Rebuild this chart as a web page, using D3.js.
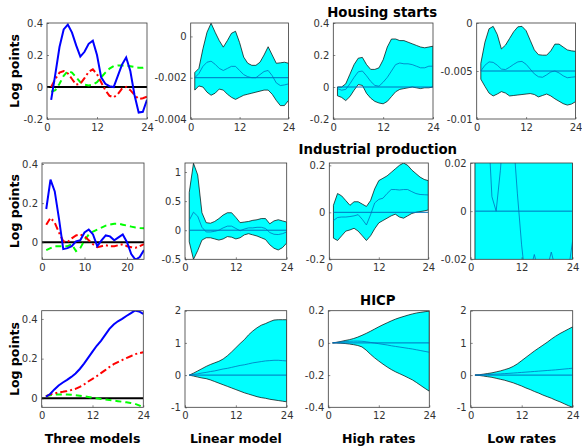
<!DOCTYPE html>
<html><head><meta charset="utf-8">
<script src="https://cdn.jsdelivr.net/npm/d3@7"></script>
<style>body{margin:0;background:#fff}svg{display:block}</style>
</head><body><svg id="fig" width="582" height="448"></svg>
<script>
// Impulse-response horizon (months)
const horizon = [1,2,3,4,5,6,7,8,9,10,11,12,13,14,15,16,17,18,19,20,21,22,23,24];

// ---- Housing starts ----
const hsLinear = [-0.08,0.08,0.25,0.36,0.39,0.34,0.26,0.19,0.22,0.27,0.29,0.20,0.06,0.02,0.005,0.0,0.07,0.14,0.185,0.10,-0.05,-0.16,-0.155,-0.08];
const hsLow    = [0.0,0.05,0.09,0.10,0.085,0.05,0.015,0.02,0.055,0.095,0.11,0.08,0.03,-0.02,-0.055,-0.065,-0.045,-0.01,0.0,-0.02,-0.05,-0.075,-0.07,-0.06];
const hsHigh   = [-0.03,-0.02,0.02,0.07,0.10,0.09,0.06,0.03,0.015,0.01,0.015,0.03,0.06,0.09,0.115,0.13,0.135,0.135,0.135,0.13,0.125,0.12,0.12,0.125];
const hsLinMid = [-0.0020,-0.0018,-0.00145,-0.00125,-0.0012,-0.00135,-0.00155,-0.00165,-0.00155,-0.00145,-0.00145,-0.00165,-0.00185,-0.00195,-0.0020,-0.0020,-0.00185,-0.0017,-0.00165,-0.0019,-0.00225,-0.00238,-0.00235,-0.0023];
const hsLinUp  = [-0.00175,-0.00155,-0.0006,0.0002,0.00064,0.0002,-0.0002,-0.00052,-0.0002,0.00015,0.00025,-0.0003,-0.0010,-0.0013,-0.0014,-0.0014,-0.00125,-0.0009,-0.0005,-0.0009,-0.0013,-0.00128,-0.00125,-0.0013];
const hsLinLo  = [-0.0026,-0.0024,-0.00245,-0.0027,-0.00285,-0.00275,-0.00255,-0.0026,-0.0028,-0.00295,-0.00305,-0.00295,-0.00285,-0.0028,-0.00275,-0.0027,-0.00265,-0.0026,-0.0026,-0.0028,-0.0031,-0.00335,-0.00335,-0.0031];
const hsHighMid = [-0.01,-0.02,-0.015,0.02,0.06,0.095,0.10,0.07,0.035,0.01,0.005,0.03,0.06,0.10,0.14,0.15,0.145,0.145,0.14,0.13,0.12,0.12,0.13,0.13];
const hsHighUp  = [0.0,0.0,0.02,0.08,0.14,0.18,0.185,0.14,0.11,0.11,0.12,0.17,0.25,0.30,0.30,0.29,0.29,0.28,0.27,0.26,0.25,0.245,0.25,0.255];
const hsHighLo  = [-0.055,-0.065,-0.085,-0.06,-0.02,0.015,0.01,-0.04,-0.07,-0.09,-0.10,-0.105,-0.09,-0.06,-0.03,-0.015,-0.01,-0.005,0.0,-0.005,-0.01,-0.005,-0.005,0.0];
const hsLowMid = [-0.0050,-0.0044,-0.00405,-0.0041,-0.0044,-0.0048,-0.00485,-0.0046,-0.0043,-0.00405,-0.0040,-0.0043,-0.0048,-0.0053,-0.0056,-0.00565,-0.0054,-0.0051,-0.0050,-0.0052,-0.0055,-0.0057,-0.00565,-0.0056];
const hsLowUp  = [-0.0042,-0.0020,-0.0006,-0.00035,-0.0012,-0.0027,-0.0023,-0.0016,-0.0009,-0.0004,-0.00035,-0.0008,-0.0018,-0.0028,-0.0033,-0.00335,-0.00335,-0.0029,-0.0022,-0.0022,-0.0025,-0.0028,-0.0029,-0.00295];
const hsLowLo  = [-0.00585,-0.0066,-0.0073,-0.0076,-0.0074,-0.00715,-0.0073,-0.0076,-0.00755,-0.0075,-0.00745,-0.0074,-0.00735,-0.00745,-0.0077,-0.00755,-0.0074,-0.0076,-0.0079,-0.00815,-0.0084,-0.00855,-0.00845,-0.0082];

// ---- Industrial production ----
const ipLinear = [0.17,0.32,0.26,0.12,-0.035,-0.03,-0.02,0.005,0.01,0.05,0.065,0.04,-0.02,0.01,0.035,0.03,0.01,0.025,0.04,0.0,-0.06,-0.09,-0.075,-0.04];
const ipLow    = [0.09,0.125,0.10,0.05,0.005,0.0,0.02,0.035,0.04,0.03,0.01,-0.01,-0.025,-0.02,-0.015,-0.02,-0.02,-0.015,-0.01,-0.02,-0.025,-0.028,-0.02,-0.01];
const ipHigh   = [-0.04,-0.03,-0.02,-0.02,-0.02,-0.02,-0.01,-0.045,-0.03,0.01,0.04,0.055,0.065,0.075,0.085,0.09,0.095,0.095,0.09,0.085,0.08,0.075,0.073,0.072];
const ipLinMid = [0.17,0.31,0.24,0.05,-0.03,-0.03,-0.02,0.0,0.04,0.07,0.07,0.03,-0.01,0.02,0.04,0.04,0.05,0.05,0.03,-0.04,-0.07,-0.075,-0.06,-0.03];
const ipLinUp  = [0.65,1.15,0.95,0.30,0.13,0.12,0.15,0.20,0.26,0.30,0.30,0.22,0.13,0.14,0.15,0.17,0.18,0.20,0.20,0.11,0.16,0.18,0.16,0.14];
const ipLinLo  = [-0.20,-0.50,-0.35,-0.17,-0.13,-0.13,-0.15,-0.17,-0.15,-0.11,-0.12,-0.15,-0.13,-0.08,-0.06,-0.08,-0.10,-0.13,-0.16,-0.25,-0.31,-0.34,-0.30,-0.22];
const ipHighMid = [-0.035,-0.022,-0.02,-0.02,-0.018,-0.015,-0.01,-0.03,-0.054,-0.01,0.04,0.055,0.06,0.08,0.097,0.097,0.095,0.097,0.097,0.088,0.08,0.076,0.075,0.074];
const ipHighUp  = [0.03,0.08,0.07,0.05,0.03,0.045,0.045,0.035,0.025,0.05,0.10,0.135,0.145,0.155,0.17,0.185,0.20,0.21,0.20,0.18,0.165,0.15,0.14,0.135];
const ipHighLo  = [-0.11,-0.12,-0.10,-0.08,-0.075,-0.068,-0.08,-0.10,-0.12,-0.10,-0.07,-0.045,-0.035,-0.025,-0.015,-0.008,-0.02,-0.025,-0.015,-0.005,0.0,0.003,0.006,0.01];
const ipLowMid = [0.10,0.09,0.07,0.04,0.006,0.0,0.017,0.04,0.045,0.032,0.0075,-0.014,-0.03,-0.025,-0.018,-0.025,-0.03,-0.024,-0.017,-0.024,-0.03,-0.03,-0.025,-0.0127];
const ipLowUp  = [0.30,0.32,0.33,0.33,0.32,0.32,0.31,0.31,0.30,0.30,0.29,0.29,0.28,0.28,0.27,0.27,0.27,0.26,0.26,0.26,0.25,0.25,0.25,0.25];
const ipLowLo  = [-0.30,-0.31,-0.31,-0.32,-0.32,-0.32,-0.33,-0.33,-0.33,-0.34,-0.34,-0.34,-0.35,-0.35,-0.35,-0.35,-0.36,-0.36,-0.36,-0.36,-0.37,-0.37,-0.37,-0.37];

// ---- HICP ----
const hiLinear = [0.008,0.022,0.045,0.065,0.08,0.093,0.108,0.125,0.148,0.175,0.205,0.235,0.265,0.29,0.32,0.35,0.372,0.388,0.40,0.415,0.428,0.442,0.438,0.425];
const hiLow    = [0.01,0.02,0.025,0.03,0.033,0.037,0.042,0.048,0.058,0.07,0.085,0.098,0.112,0.127,0.142,0.158,0.172,0.183,0.193,0.203,0.212,0.222,0.228,0.232];
const hiHigh   = [0.012,0.016,0.019,0.02,0.02,0.019,0.018,0.016,0.013,0.01,0.007,0.003,0.0,-0.003,-0.005,-0.008,-0.011,-0.014,-0.017,-0.02,-0.023,-0.027,-0.035,-0.045];
const hiLinMid = [0.0,0.02,0.04,0.065,0.085,0.11,0.13,0.16,0.19,0.21,0.24,0.27,0.30,0.32,0.35,0.38,0.40,0.42,0.44,0.45,0.46,0.46,0.45,0.44];
const hiLinUp  = [0.0,0.06,0.13,0.20,0.27,0.33,0.38,0.43,0.50,0.60,0.72,0.85,0.98,1.10,1.25,1.37,1.47,1.55,1.60,1.66,1.71,1.72,1.72,1.72];
const hiLinLo  = [0.0,-0.03,-0.06,-0.09,-0.11,-0.15,-0.20,-0.25,-0.30,-0.35,-0.40,-0.45,-0.50,-0.55,-0.59,-0.63,-0.67,-0.70,-0.72,-0.75,-0.77,-0.79,-0.81,-0.83];
const hiHighMid = [0.0,0.003,0.006,0.009,0.01,0.011,0.011,0.01,0.007,0.003,-0.001,-0.005,-0.009,-0.013,-0.018,-0.022,-0.026,-0.03,-0.034,-0.038,-0.043,-0.048,-0.053,-0.058];
const hiHighUp  = [0.0,0.004,0.009,0.015,0.02,0.027,0.036,0.047,0.059,0.072,0.086,0.10,0.113,0.125,0.137,0.148,0.157,0.165,0.173,0.18,0.186,0.19,0.194,0.197];
const hiHighLo  = [0.0,-0.001,-0.002,-0.004,-0.007,-0.011,-0.016,-0.025,-0.045,-0.07,-0.093,-0.113,-0.132,-0.15,-0.166,-0.18,-0.192,-0.204,-0.217,-0.23,-0.247,-0.265,-0.283,-0.30];
const hiLowMid = [0.0,0.005,0.01,0.017,0.024,0.031,0.038,0.046,0.055,0.064,0.073,0.083,0.093,0.103,0.113,0.123,0.133,0.143,0.153,0.163,0.175,0.188,0.20,0.215];
const hiLowUp  = [0.0,0.01,0.03,0.05,0.07,0.10,0.13,0.17,0.21,0.27,0.35,0.45,0.55,0.65,0.75,0.84,0.93,1.02,1.12,1.21,1.29,1.36,1.43,1.50];
const hiLowLo  = [0.0,-0.01,-0.03,-0.05,-0.07,-0.10,-0.13,-0.16,-0.20,-0.24,-0.29,-0.34,-0.40,-0.45,-0.51,-0.56,-0.62,-0.67,-0.72,-0.78,-0.83,-0.89,-0.95,-1.00];

// Titles and labels
const rowTitles = ["Housing starts", "Industrial production", "HICP"];
const colLabels = ["Three models", "Linear model", "High rates", "Low rates"];
const yAxisTitle = "Log points";

// Tick values per panel (row-major)
const xTicksStd = [0, 12, 24];
const xTicksIp1 = [0, 10, 20];
const yTicks = [
  [-0.2, 0, 0.2, 0.4], [-0.004, -0.002, 0], [-0.2, 0, 0.2, 0.4], [-0.01, -0.005, 0],
  [0, 0.2, 0.4], [-0.5, 0, 0.5, 1], [-0.2, 0, 0.2], [-0.02, 0, 0.02],
  [0, 0.2, 0.4], [-1, 0, 1, 2], [-0.4, -0.2, 0, 0.2], [-1, 0, 1, 2]
];
const yDomains = [
  [-0.2, 0.4], [-0.004, 0.00065], [-0.2, 0.4], [-0.01, 0],
  [-0.087, 0.405], [-0.5, 1.155], [-0.2, 0.21], [-0.02, 0.02],
  [-0.045, 0.4415], [-1, 2], [-0.4, 0.2], [-1, 2]
];
const refLevels = [0, -0.002, 0, -0.005, 0, 0, 0, 0, 0, 0, 0, 0];

// Axes boxes [left, top, right, bottom] in pixels
const boxes = [
  [47, 23, 147, 119], [190.7, 23, 288.5, 119], [333.3, 23, 433, 119], [476.7, 23, 575.5, 119],
  [42, 163, 144, 259.3], [185, 163, 286.7, 259.3], [329.3, 163, 428.3, 259.3], [470.7, 163, 572.5, 259.3],
  [41.7, 310.7, 143.3, 407.3], [185, 310.7, 286.7, 407.3], [328.3, 310.7, 429.3, 407.3], [470.7, 310.7, 572.7, 407.3]
];
// Gap between each row title's baseline and its axes top
const titleGaps = [6, 9, 6];

const threeModels = [
  {linear: hsLinear, low: hsLow, high: hsHigh},
  {linear: ipLinear, low: ipLow, high: ipHigh},
  {linear: hiLinear, low: hiLow, high: hiHigh}
];
const bands = [
  [{mid: hsLinMid, up: hsLinUp, lo: hsLinLo}, {mid: hsHighMid, up: hsHighUp, lo: hsHighLo}, {mid: hsLowMid, up: hsLowUp, lo: hsLowLo}],
  [{mid: ipLinMid, up: ipLinUp, lo: ipLinLo}, {mid: ipHighMid, up: ipHighUp, lo: ipHighLo}, {mid: ipLowMid, up: ipLowUp, lo: ipLowLo}],
  [{mid: hiLinMid, up: hiLinUp, lo: hiLinLo}, {mid: hiHighMid, up: hiHighUp, lo: hiHighLo}, {mid: hiLowMid, up: hiLowUp, lo: hiLowLo}]
];

const svg = d3.select("#fig");
const tickFont = "'DejaVu Sans', sans-serif";
const boldFont = "'DejaVu Sans', sans-serif";
const axisGray = "#3a3a3a";
const matBlue = "#0072BD";

function fmt(v) {
  if (v === 0) return "0";
  return String(v);
}

function drawPanel(r, c) {
  const k = r * 4 + c;
  const [L, T, R, B] = boxes[k];
  const x = d3.scaleLinear().domain([0, 24]).range([L, R]);
  const y = d3.scaleLinear().domain(yDomains[k]).range([B, T]);
  const g = svg.append("g");
  const clipId = "clip" + k;
  svg.append("clipPath").attr("id", clipId)
    .append("rect").attr("x", L).attr("y", T).attr("width", R - L).attr("height", B - T);
  const plot = g.append("g").attr("clip-path", `url(#${clipId})`);
  const line = (arr) => d3.line().x((d, i) => x(horizon[i])).y(d => y(d))(arr);

  if (c === 0) {
    const m = threeModels[r];
    plot.append("path").attr("d", d3.line()([[x(0), y(0)], [x(24), y(0)]]))
      .attr("stroke", "#000").attr("stroke-width", 2).attr("fill", "none");
    plot.append("path").attr("d", line(m.high)).attr("stroke", "#00FF00")
      .attr("stroke-width", 2).attr("stroke-dasharray", "6,4").attr("fill", "none");
    plot.append("path").attr("d", line(m.low)).attr("stroke", "#FF0000")
      .attr("stroke-width", 2).attr("stroke-dasharray", "7,3,2,3").attr("fill", "none");
    plot.append("path").attr("d", line(m.linear)).attr("stroke", "#0000FF")
      .attr("stroke-width", 2).attr("fill", "none");
  } else {
    const b = bands[r][c - 1];
    const area = d3.area().x((d, i) => x(horizon[i])).y0((d, i) => y(b.lo[i])).y1(d => y(d));
    plot.append("path").attr("d", area(b.up) + "Z").attr("fill", "#00FFFF")
      .attr("stroke", "#000").attr("stroke-width", 0.7);
    plot.append("path").attr("d", d3.line()([[x(horizon[0]), y(refLevels[k])], [x(24), y(refLevels[k])]]))
      .attr("stroke", matBlue).attr("stroke-width", 1).attr("fill", "none");
    plot.append("path").attr("d", line(b.mid)).attr("stroke", matBlue)
      .attr("stroke-width", 0.8).attr("fill", "none");
  }

  // axes
  const xt = (r === 1 && c === 0) ? xTicksIp1 : xTicksStd;
  const ax = g.append("g").attr("transform", `translate(0,${B})`)
    .call(d3.axisBottom(x).tickValues(xt).tickFormat(fmt).tickSizeInner(-2).tickSizeOuter(0).tickPadding(5));
  const ay = g.append("g").attr("transform", `translate(${L},0)`)
    .call(d3.axisLeft(y).tickValues(yTicks[k]).tickFormat(fmt).tickSizeInner(-2).tickSizeOuter(0).tickPadding(4));
  [ax, ay].forEach(a => {
    a.select(".domain").remove();
    a.selectAll("line").attr("stroke", axisGray).attr("stroke-width", 0.6);
    a.selectAll("text").attr("fill", "#333").style("font-family", tickFont).style("font-size", "10px");
  });
  g.append("rect").attr("x", L).attr("y", T).attr("width", R - L).attr("height", B - T)
    .attr("fill", "none").attr("stroke", axisGray).attr("stroke-width", 0.8);

  if (c === 2) {
    g.append("text").attr("x", (L + R) / 2 - 1).attr("y", T - titleGaps[r]).attr("text-anchor", "middle")
      .style("font-family", boldFont).style("font-weight", "bold").style("font-size", "13.3px")
      .attr("fill", "#000").text(rowTitles[r]);
  }
  if (c === 0) {
    g.append("text").attr("transform", `translate(19,${(T + B) / 2}) rotate(-90)`)
      .attr("text-anchor", "middle")
      .style("font-family", boldFont).style("font-weight", "bold").style("font-size", "12.5px")
      .attr("fill", "#000").text(yAxisTitle);
  }
  if (r === 2) {
    g.append("text").attr("x", (L + R) / 2).attr("y", 443).attr("text-anchor", "middle")
      .style("font-family", boldFont).style("font-weight", "bold").style("font-size", "12.5px")
      .attr("fill", "#000").text(colLabels[c]);
  }
}

for (let r = 0; r < 3; r++) for (let c = 0; c < 4; c++) drawPanel(r, c);
</script>
</body></html>
